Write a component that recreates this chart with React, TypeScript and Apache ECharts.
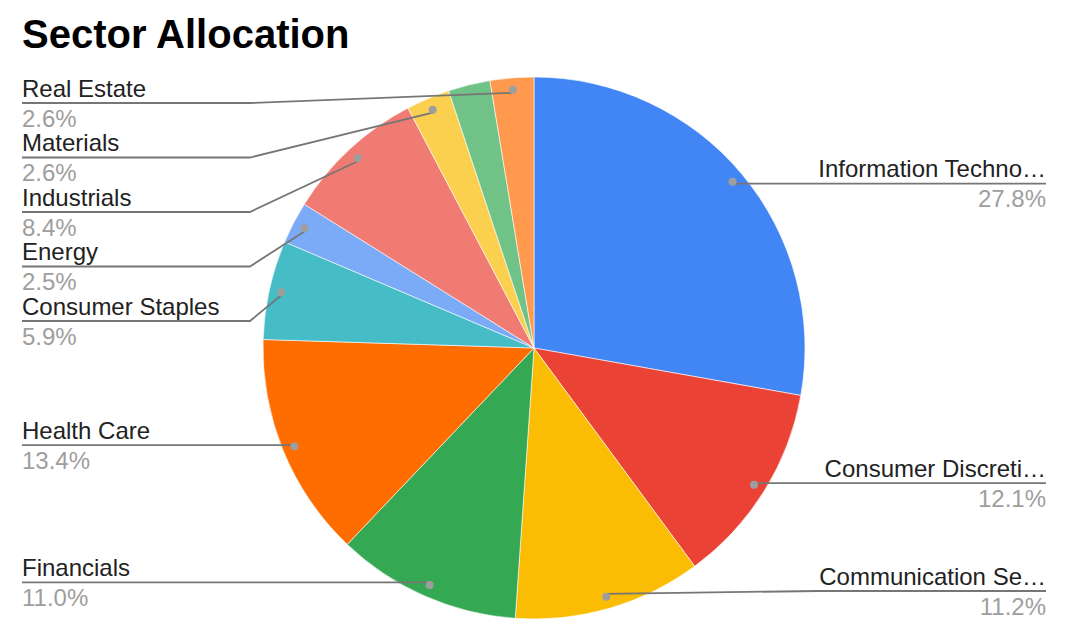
import React, { useEffect, useRef } from 'react';
import * as echarts from 'echarts';

const TITLE = 'Sector Allocation';
const sectors = [
  'Information Technology',
  'Consumer Discretionary',
  'Communication Services',
  'Financials',
  'Health Care',
  'Consumer Staples',
  'Energy',
  'Industrials',
  'Materials',
  'Utilities',
  'Real Estate',
];
const weights = [27.8, 12.1, 11.2, 11.0, 13.4, 5.9, 2.5, 8.4, 2.6, 2.5, 2.6];
const colors = [
  '#4285f4', '#ea4335', '#fbbc04', '#34a853', '#ff6d01', '#46bdc6',
  '#7baaf7', '#f07b72', '#fcd04f', '#71c287', '#ff994d',
];
const hiddenLabels = ['Utilities'];

// layout constants (styles)
const W = 1074;
const H = 640;
const CX = 534;
const CY = 348;
const R = 271;
const DOT_R = 256;
const LEFT_X = 22;
const RIGHT_X = 1046;
const BEND_GAP = 13;
const STEP = 54.5;
const MIN_Y = 103;
const MAX_Y = 591;
const FONT = '"Liberation Sans", Arial, sans-serif';
const LABEL_SIZE = 24;
const LINE_H = 30;

type LabelPos = { side: 'left' | 'right'; dotX: number; dotY: number; y: number; show: boolean };

function computeLabelPositions(): LabelPos[] {
  const total = weights.reduce((a, b) => a + b, 0);
  let acc = 0;
  const items: LabelPos[] = weights.map((v, i) => {
    const mid = ((acc + v / 2) / total) * Math.PI * 2;
    acc += v;
    const dotX = CX + Math.sin(mid) * DOT_R;
    const dotY = CY - Math.cos(mid) * DOT_R;
    return {
      side: Math.sin(mid) >= 0 ? 'right' : 'left',
      dotX,
      dotY,
      y: dotY,
      show: !hiddenLabels.includes(sectors[i]),
    };
  });
  (['left', 'right'] as const).forEach((side) => {
    const list = items.filter((it) => it.side === side && it.show).sort((a, b) => a.dotY - b.dotY);
    list.forEach((it, k) => {
      const prev = k > 0 ? list[k - 1].y + STEP : MIN_Y;
      it.y = Math.max(it.dotY, prev, MIN_Y);
    });
    for (let k = list.length - 1; k >= 0; k--) {
      const next = k < list.length - 1 ? list[k + 1].y - STEP : MAX_Y;
      list[k].y = Math.min(list[k].y, next, MAX_Y);
    }
  });
  return items;
}

export default function App() {
  const ref = useRef<HTMLDivElement>(null);

  useEffect(() => {
    document.body.style.margin = '0';
    if (!ref.current) return;
    const chart = echarts.init(ref.current, undefined, { renderer: 'svg' });
    const pos = computeLabelPositions();

    const sliceData = sectors.map((name, i) => ({
      name,
      value: weights[i],
      itemStyle: { color: colors[i] },
    }));

    const labelData = sectors.map((name, i) => ({
      name,
      value: weights[i],
      label: { show: pos[i].show },
      labelLine: { show: pos[i].show },
    }));

    const base = {
      type: 'pie',
      center: [CX, CY],
      startAngle: 90,
      clockwise: true,
      percentPrecision: 1,
      emphasis: { disabled: true },
    };

    const option: any = {
      animation: false,
      backgroundColor: '#ffffff',
      title: {
        text: TITLE,
        left: 17,
        top: 9,
        textStyle: { fontFamily: FONT, fontSize: 40, fontWeight: 'bold', color: '#000000' },
      },
      series: [
        {
          ...base,
          radius: [0, R],
          z: 2,
          itemStyle: { borderColor: '#ffffff', borderWidth: 0.6 },
          label: { show: false },
          labelLine: { show: false },
          data: sliceData,
        },
        {
          ...base,
          radius: [0, R],
          z: 4,
          silent: true,
          avoidLabelOverlap: false,
          itemStyle: { color: 'rgba(0,0,0,0)', borderWidth: 0 },
          label: {
            show: true,
            position: 'outside',
            width: 232,
            overflow: 'truncate',
            ellipsis: '…',
            formatter: (p: any) => {
              const s = pos[p.dataIndex].side === 'left' ? 'L' : 'R';
              return `{n${s}|${p.name}}\n{p${s}|${p.percent.toFixed(1)}%}`;
            },
            rich: {
              nL: { fontFamily: FONT, fontSize: LABEL_SIZE, color: '#222222', lineHeight: LINE_H, align: 'left' },
              pL: { fontFamily: FONT, fontSize: LABEL_SIZE, color: '#9e9e9e', lineHeight: LINE_H, align: 'left' },
              nR: { fontFamily: FONT, fontSize: LABEL_SIZE, color: '#222222', lineHeight: LINE_H, align: 'right' },
              pR: { fontFamily: FONT, fontSize: LABEL_SIZE, color: '#9e9e9e', lineHeight: LINE_H, align: 'right' },
            },
          },
          labelLine: {
            show: true,
            lineStyle: { color: '#767676', width: 1.8 },
          },
          labelLayout: (params: any) => {
            const it = pos[params.dataIndex];
            if (!it || !it.show) return {};
            const left = it.side === 'left';
            const endX = left ? LEFT_X : RIGHT_X;
            const bendX = left ? CX - R - BEND_GAP : CX + R + BEND_GAP;
            return {
              x: endX,
              y: it.y,
              align: left ? 'left' : 'right',
              verticalAlign: 'middle',
              labelLinePoints: [
                [it.dotX, it.dotY],
                [bendX, it.y],
                [endX, it.y],
              ],
            };
          },
          data: labelData,
        },
        {
          ...base,
          radius: [DOT_R - (R - DOT_R), R],
          z: 6,
          silent: true,
          itemStyle: { color: 'rgba(0,0,0,0)', borderWidth: 0 },
          labelLine: { show: false },
          label: {
            show: true,
            position: 'inside',
            formatter: '{d|}',
            rich: {
              d: { width: 8, height: 8, backgroundColor: '#9e9e9e', borderRadius: 4 },
            },
          },
          data: labelData.map((d) => ({ name: d.name, value: d.value, label: d.label })),
        },
      ],
    };
    chart.setOption(option);
    return () => chart.dispose();
  }, []);

  return <div ref={ref} style={{ width: W, height: H }} />;
}
